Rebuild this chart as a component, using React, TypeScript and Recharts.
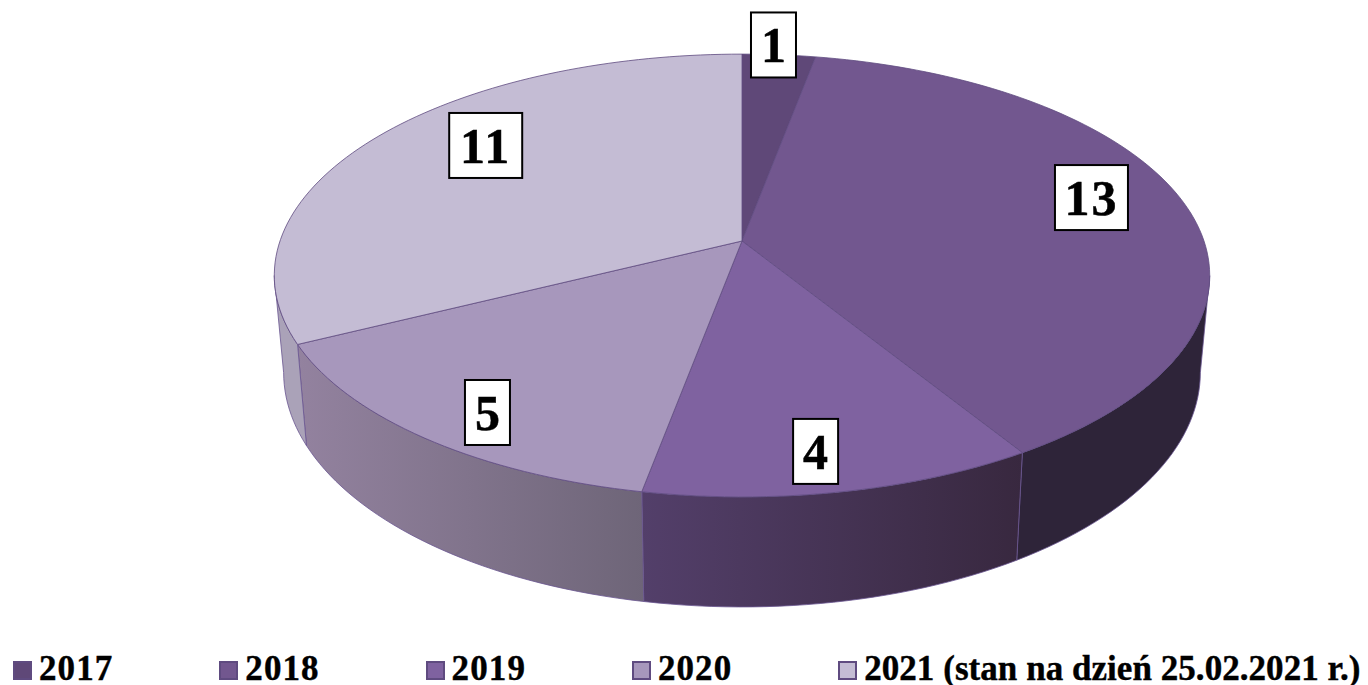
import React from 'react';
import { PieChart, Pie, Legend } from 'recharts';

const categories = ['2017', '2018', '2019', '2020', '2021 (stan na dzień 25.02.2021 r.)'];
const values = [1, 13, 4, 5, 11];
const topColors = ['#5f4878', '#72578f', '#7f62a0', '#a797bc', '#c4bcd4'];
const wallLeft = ['#4a3860', '#2e2439', '#533f6a', '#93829f', '#aaa2b8'];
const wallRight = ['#4a3860', '#2e2439', '#38283f', '#6e6578', '#aaa2b8'];
const labelRho = [1.06, 0.808, 0.857, 0.86, 0.762];
const labelTurn = [-1, -4.3, 1.3, -2.3, 6.8];

const table = categories.map((name, i) => ({ name, value: values[i], fill: topColors[i] }));

// projection of the flat disc onto the tilted view
const SQUASH = 216 / 462;
const PERSP = 0.1558;
const WALL_X = 0.98;
const WALL_Y = 1.059;
const WALL_DROP = 95;
const VISIBLE_FROM = 99;
const VISIBLE_TO = 261;

const rad = (d: number) => (d * Math.PI) / 180;

function project(cx: number, cy: number, r: number, theta: number, rho = 1) {
  const X = rho * Math.sin(rad(theta));
  const Y = rho * Math.cos(rad(theta));
  const d = 1 + PERSP * Y;
  return { x: (r * X) / d, y: (r * SQUASH * Y) / d, cx, cy };
}
const top = (cx: number, cy: number, r: number, t: number) => {
  const p = project(cx, cy, r, t);
  return [cx + p.x, cy - p.y];
};
const bottom = (cx: number, cy: number, r: number, t: number) => {
  const p = project(cx, cy, r, t);
  return [cx + p.x * WALL_X, cy + WALL_DROP - p.y * WALL_Y];
};
const arc = (from: number, to: number, fn: (t: number) => number[]) => {
  const n = Math.max(2, Math.ceil(Math.abs(to - from) / 1.5));
  const pts: number[][] = [];
  for (let i = 0; i <= n; i++) pts.push(fn(from + ((to - from) * i) / n));
  return pts;
};
const toPath = (pts: number[][]) =>
  pts.map((p, i) => `${i ? 'L' : 'M'}${p[0].toFixed(2)} ${p[1].toFixed(2)}`).join(' ') + ' Z';

function Slice(props: any) {
  const { cx, cy, outerRadius: r, startAngle, endAngle, index, fill } = props;
  const t0 = 90 - startAngle;
  const t1 = 90 - endAngle;
  const w0 = Math.max(t0, VISIBLE_FROM);
  const w1 = Math.min(t1, VISIBLE_TO);
  const id = `wall-${index}`;
  const topPath = toPath([[cx, cy], ...arc(t0, t1, (t) => top(cx, cy, r, t))]);
  return (
    <g>
      {w1 > w0 && (
        <>
          <defs>
            <linearGradient id={id} x1="0" y1="0" x2="1" y2="0">
              <stop offset="0%" stopColor={wallLeft[index]} />
              <stop offset="100%" stopColor={wallRight[index]} />
            </linearGradient>
          </defs>
          <path
            d={toPath([
              ...arc(w0, w1, (t) => top(cx, cy, r, t)),
              ...arc(w1, w0, (t) => bottom(cx, cy, r, t)),
            ])}
            fill={`url(#${id})`}
            stroke="#6a5590"
            strokeWidth={0.8}
          />
        </>
      )}
      <path d={topPath} fill={fill} stroke="#5f4b80" strokeWidth={0.8} strokeLinejoin="round" />
    </g>
  );
}

function ValueLabel(props: any) {
  const { cx, cy, outerRadius: r, midAngle, value, index } = props;
  const t = 90 - midAngle + labelTurn[index];
  const p = project(cx, cy, r, t, labelRho[index]);
  const x = cx + p.x;
  const y = cy - p.y;
  const text = String(value);
  const w = 45 + (text.length - 1) * 28;
  return (
    <g>
      <rect x={x - w / 2} y={y - 32.5} width={w} height={65} fill="#fff" stroke="#000" strokeWidth={2} />
      <text
        x={x}
        y={y + 17.5}
        textAnchor="middle"
        fontFamily="'Liberation Serif', serif"
        fontWeight="bold"
        fontSize={50}
        letterSpacing={text.length > 1 ? 2 : 0}
        stroke="#000"
        strokeWidth={0.5}
        fill="#000"
      >
        {text}
      </text>
    </g>
  );
}

const LEGEND_START = 13;
const LEGEND_STEP = 206.3;

function LegendRow({ payload }: any) {
  return (
    <div style={{ position: 'relative', width: 1368, height: 35 }}>
      {(payload || []).map((e: any, i: number) => (
        <div key={e.value} style={{ position: 'absolute', left: LEGEND_START + LEGEND_STEP * i, top: 0, whiteSpace: 'nowrap' }}>
          <span
            style={{
              position: 'absolute',
              left: 0,
              top: 11,
              width: 15,
              height: 15,
              background: topColors[i],
              border: '2px solid #5f4b80',
            }}
          />
          <span
            style={{
              position: 'absolute',
              left: 26,
              top: 3,
              fontFamily: "'Liberation Serif', serif",
              fontWeight: 'bold',
              fontSize: 35,
              lineHeight: '32px',
              letterSpacing: String(e.value).length > 4 ? 0.05 : 1.1,
              WebkitTextStroke: '0.4px #000',
              color: '#000',
            }}
          >
            {e.value}
          </span>
        </div>
      ))}
    </div>
  );
}

export default function App() {
  return (
    <div style={{ position: 'absolute', left: 0, top: 0, width: 1368, height: 685, overflow: 'hidden', background: '#fff' }}>
      <PieChart width={1368} height={685} margin={{ top: 0, right: 0, bottom: 0, left: 0 }}>
        <Pie
          data={table}
          dataKey="value"
          nameKey="name"
          cx={742}
          cy={241}
          innerRadius={0}
          outerRadius={462}
          startAngle={90}
          endAngle={-270}
          isAnimationActive={false}
          labelLine={false}
          label={ValueLabel}
          shape={Slice}
        />
        <Legend content={LegendRow} wrapperStyle={{ position: 'absolute', left: 0, top: 650, width: 1368 }} />
      </PieChart>
    </div>
  );
}
